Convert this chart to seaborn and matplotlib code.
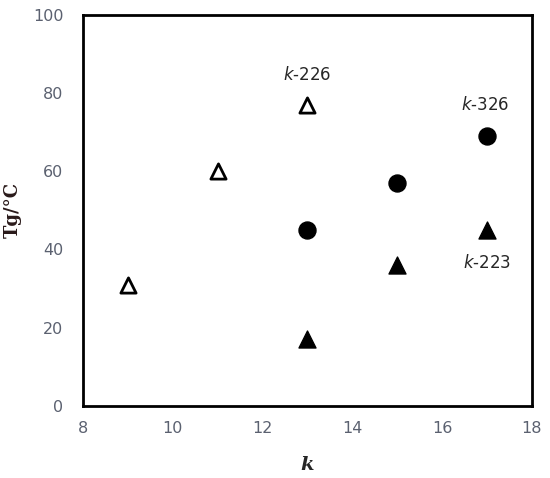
import matplotlib
matplotlib.use("Agg")
import matplotlib.pyplot as plt
import seaborn as sns
import pandas as pd

# series
k_226 = [9, 11, 13]
tg_226 = [31, 60, 77]
k_326 = [13, 15, 17]
tg_326 = [45, 57, 69]
k_223 = [13, 15, 17]
tg_223 = [17, 36, 45]

x_ticks = [8, 10, 12, 14, 16, 18]
y_ticks = [0, 20, 40, 60, 80, 100]

sns.set_style("white")
plt.rcParams['font.family'] = ['DejaVu Sans']

fig = plt.figure(figsize=(5.5, 4.78), dpi=100)
ax = fig.add_axes([0.151, 0.151, 0.816, 0.818])

df226 = pd.DataFrame({"k": k_226, "Tg": tg_226})
df326 = pd.DataFrame({"k": k_326, "Tg": tg_326})
df223 = pd.DataFrame({"k": k_223, "Tg": tg_223})

sns.scatterplot(data=df226, x="k", y="Tg", marker="^", s=120, facecolor="white",
                edgecolor="black", linewidth=2, ax=ax, zorder=3)
sns.scatterplot(data=df326, x="k", y="Tg", marker="o", s=150, color="black",
                edgecolor="black", ax=ax, zorder=3)
sns.scatterplot(data=df223, x="k", y="Tg", marker="^", s=150, color="black",
                edgecolor="black", ax=ax, zorder=3)

ax.set_xlim(8, 18)
ax.set_ylim(0, 100)
ax.set_xticks(x_ticks)
ax.set_yticks(y_ticks)
ax.tick_params(direction="in", length=5, width=1.5, color="black",
               labelcolor="#5b6170", labelsize=11.5)
ax.tick_params(axis="y", pad=14)
ax.tick_params(axis="x", pad=11)
for sp in ax.spines.values():
    sp.set_visible(True)
    sp.set_color("black")
    sp.set_linewidth(2)

ax.set_xlabel("k", fontfamily="DejaVu Serif", fontweight="bold", fontstyle="italic",
              fontsize=14, labelpad=14)
ax.set_ylabel("Tg/°C", fontfamily="DejaVu Serif", fontweight="bold", fontsize=13,
              labelpad=8, color="#2a1a1a")

ax.text(13, 84.5, "$k$-226", ha="center", va="center", fontsize=12)
ax.text(16.95, 77, "$k$-326", ha="center", va="center", fontsize=12)
ax.text(17.0, 36.5, "$k$-223", ha="center", va="center", fontsize=12)

fig.savefig("out.png", dpi=100)
